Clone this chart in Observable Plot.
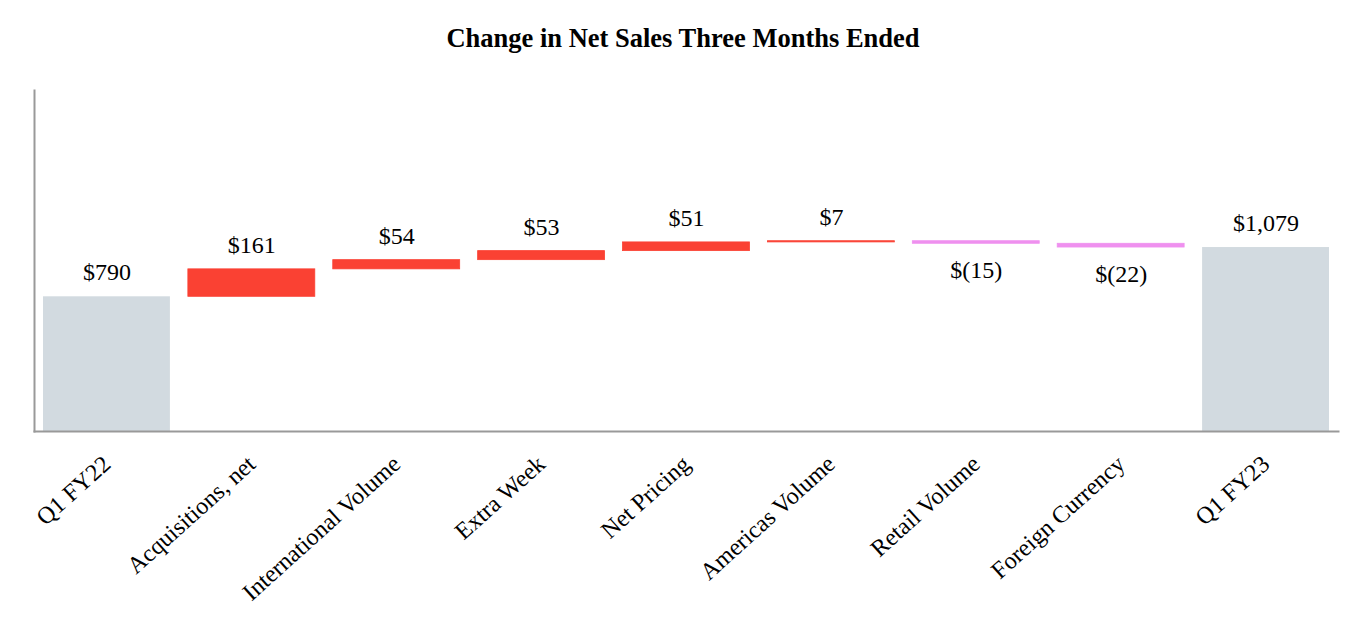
<!DOCTYPE html>
<html>
<head>
<meta charset="utf-8">
<script src="https://cdn.jsdelivr.net/npm/d3@7"></script>
<script src="https://cdn.jsdelivr.net/npm/@observablehq/plot@0.6"></script>
<style>
  html, body { margin: 0; padding: 0; background: #fff; }
  body { width: 1366px; height: 628px; overflow: hidden; font-family: "Liberation Serif", "Times New Roman", serif; }
  #title { height: 75px; line-height: 76px; text-align: center; font-weight: bold; font-size: 26.5px; color: #000; }
</style>
</head>
<body>
<div id="title">Change in Net Sales Three Months Ended</div>
<div id="chart"></div>
<script>
const categories = ["Q1 FY22", "Acquisitions, net", "International Volume", "Extra Week", "Net Pricing", "Americas Volume", "Retail Volume", "Foreign Currency", "Q1 FY23"];
const values = [790, 161, 54, 53, 51, 7, -15, -22, 1079];
const kinds = ["total", "change", "change", "change", "change", "change", "change", "change", "total"];
const valueLabels = ["$790", "$161", "$54", "$53", "$51", "$7", "$(15)", "$(22)", "$1,079"];

let running = 0;
const rows = categories.map((c, i) => {
  let y1, y2;
  if (kinds[i] === "total") { y1 = 0; y2 = values[i]; running = values[i]; }
  else { y1 = running; y2 = running + values[i]; running = y2; }
  const type = kinds[i] === "total" ? "total" : (values[i] >= 0 ? "up" : "down");
  return { category: c, y1, y2, type, label: valueLabels[i], top: Math.max(y1, y2), bottom: Math.min(y1, y2) };
});

const chart = Plot.plot({
  width: 1366,
  height: 553,
  marginTop: 15,
  marginBottom: 197,
  marginLeft: 34,
  marginRight: 28,
  style: { fontFamily: "Liberation Serif, Times New Roman, serif", fontSize: "22px", color: "#000", background: "#fff" },
  x: { domain: categories, paddingInner: 0.124, paddingOuter: 0.062, round: false, label: null },
  y: { domain: [0, 2000], axis: null },
  color: { domain: ["total", "up", "down"], range: ["#d2dae0", "#fa4133", "#ef90ef"] },
  marks: [
    Plot.barY(rows.filter(d => d.type === "total"), { x: "category", y1: "y1", y2: "y2", fill: "type" }),
    Plot.barY(rows.filter(d => d.type !== "total"), { x: "category", y1: "y1", y2: "y2", fill: "type", stroke: "type", strokeWidth: 0.8 }),
    Plot.text(rows.filter(d => d.type !== "down"), { x: "category", y: "top", text: "label", dy: -24, fontSize: 24, fill: "#000" }),
    Plot.text(rows.filter(d => d.type === "down"), { x: "category", y: "bottom", text: "label", dy: 27, fontSize: 24, fill: "#000" }),
    Plot.axisX({ tickRotate: -42, tickSize: 0, tickPadding: 29, fontSize: 24, label: null }),
    Plot.frame({ anchor: "left", stroke: "#999", strokeWidth: 2 }),
    Plot.frame({ anchor: "bottom", stroke: "#999", strokeWidth: 2 })
  ]
});
document.getElementById("chart").appendChild(chart);
</script>
</body>
</html>
